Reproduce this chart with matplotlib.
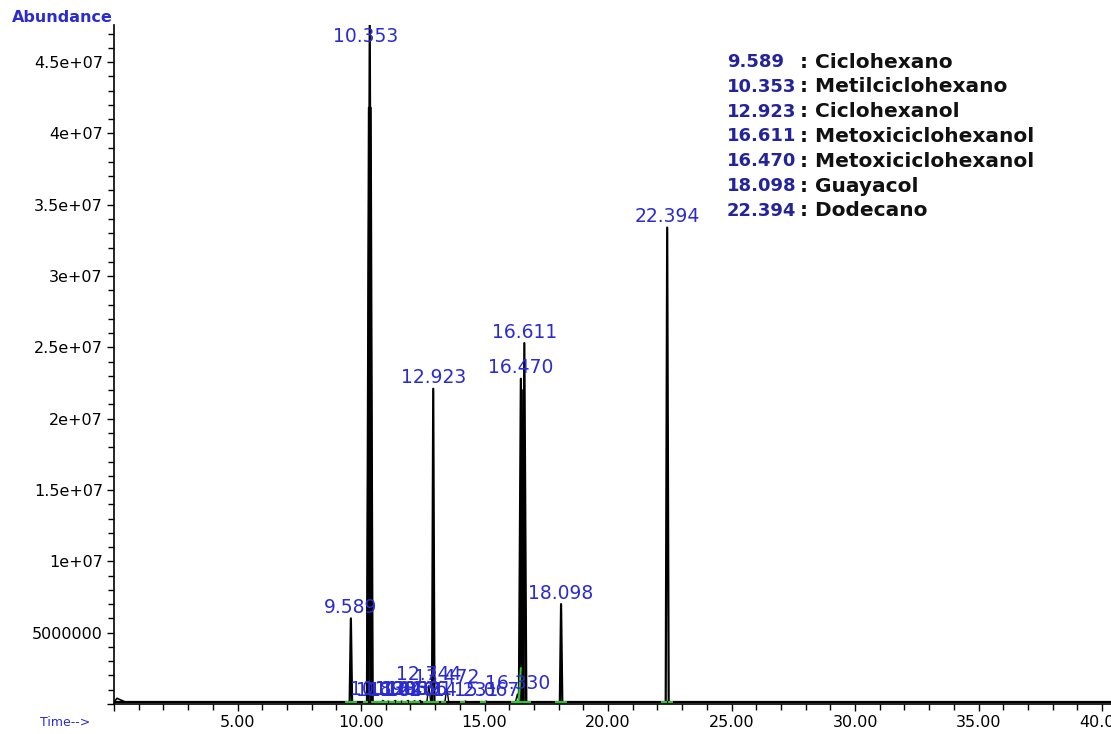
"""GC-MS total ion chromatogram with labelled peaks."""

import matplotlib
matplotlib.use("Agg")
import matplotlib.pyplot as plt
from matplotlib.ticker import MultipleLocator, FuncFormatter

# main peaks: retention time (min), abundance, half-width (min)
PEAK_TIMES = [9.589, 10.353, 12.923, 16.470, 16.611, 18.098, 22.394]
PEAK_HEIGHTS = [6.0e6, 4.76e7, 2.21e7, 2.28e7, 2.53e7, 7.0e6, 3.34e7]
PEAK_WIDTHS = [0.05, 0.10, 0.05, 0.08, 0.08, 0.05, 0.06]

# unlabelled co-eluting shoulders that thicken the big peaks
SHOULDER_TIMES = [10.32, 10.39, 16.50, 16.58]
SHOULDER_HEIGHTS = [4.18e7, 4.18e7, 2.2e7, 2.2e7]
SHOULDER_WIDTHS = [0.08, 0.08, 0.08, 0.08]

# minor peaks crowded along the baseline
MINOR_TIMES = [10.890, 11.102, 11.385, 11.640, 11.902, 12.166, 12.391,
               12.744, 13.472, 14.231, 15.067, 16.330]
MINOR_HEIGHTS = [2.5e5, 2.0e5, 2.5e5, 2.0e5, 2.5e5, 2.2e5, 2.5e5,
                 1.3e6, 1.1e6, 2.0e5, 2.0e5, 7.0e5]
MINOR_WIDTHS = [0.08] * 12

BASELINE = 1.3e5
START_BUMP = (0.12, 4.0e5, 0.35)   # time, height, half-width

COMPOUNDS = [
    ("9.589", "Ciclohexano"),
    ("10.353", "Metilciclohexano"),
    ("12.923", "Ciclohexanol"),
    ("16.611", "Metoxiciclohexanol"),
    ("16.470", "Metoxiciclohexanol"),
    ("18.098", "Guayacol"),
    ("22.394", "Dodecano"),
]

X_MAX = 40.36
Y_MAX = 4.76e7
LABEL_BLUE = "#2b2bd2"
LEGEND_BLUE = "#23239a"
GREEN = "#2ecc2e"


def peak_outline(t, h, w):
    return [t - w, t, t + w], [BASELINE, h, BASELINE]


fig = plt.figure(figsize=(11.11, 7.34), dpi=100)
ax = fig.add_axes([114 / 1111, 30 / 734, (1111 - 114) / 1111, 679 / 734])

# baseline trace
ax.plot([0, X_MAX], [BASELINE, BASELINE], color="black", lw=1.6, zorder=2)
bt, bh, bw = START_BUMP
ax.plot([0, bt, bt + bw], [BASELINE, bh, BASELINE], color="black", lw=1.2)

for t, h, w in zip(MINOR_TIMES, MINOR_HEIGHTS, MINOR_WIDTHS):
    xs, ys = peak_outline(t, h, w)
    ax.plot(xs, ys, color="black", lw=1.0, zorder=3)
    ax.plot([t - w - 0.12, t - w + 0.02], [BASELINE, BASELINE], color=GREEN, lw=1.4, zorder=4)
    ax.annotate(f"{t:.3f}", (t, h), xytext=(0, 11), textcoords="offset pixels",
                ha="center", va="center", color=LABEL_BLUE, fontsize=13.5, zorder=5)

for t, h, w in zip(SHOULDER_TIMES, SHOULDER_HEIGHTS, SHOULDER_WIDTHS):
    xs, ys = peak_outline(t, h, w)
    ax.plot(xs, ys, color="black", lw=1.6, zorder=3)

for t, h, w in zip(PEAK_TIMES, PEAK_HEIGHTS, PEAK_WIDTHS):
    xs, ys = peak_outline(t, h, w)
    ax.plot(xs, ys, color="black", lw=1.6, zorder=3)
    ax.plot([t - w - 0.15, t - w], [BASELINE, BASELINE], color=GREEN, lw=1.4, zorder=4)
    ax.plot([t + w, t + w + 0.15], [BASELINE, BASELINE], color=GREEN, lw=1.4, zorder=4)
    dy = -11 if h >= Y_MAX else 11
    ax.annotate(f"{t:.3f}", (t, min(h, Y_MAX)), xytext=(-4 if h >= Y_MAX else 0, dy),
                textcoords="offset pixels", ha="center", va="center",
                color=LABEL_BLUE, fontsize=13.5, zorder=5)

# green integration rise on the 16.4 min shoulder
ax.plot([16.38, 16.47], [BASELINE, 2.5e6], color=GREEN, lw=1.4, zorder=4)

ax.set_xlim(0, X_MAX)
ax.set_ylim(0, Y_MAX)
ax.spines["top"].set_visible(False)
ax.spines["right"].set_visible(False)
for s in ("left", "bottom"):
    ax.spines[s].set_linewidth(1.2)

ax.xaxis.set_major_locator(MultipleLocator(5))
ax.xaxis.set_minor_locator(MultipleLocator(1))
ax.yaxis.set_major_locator(MultipleLocator(5e6))
ax.yaxis.set_minor_locator(MultipleLocator(1e6))
ax.xaxis.set_major_formatter(FuncFormatter(lambda v, _: "" if v <= 0 else f"{v:.2f}"))
ax.yaxis.set_major_formatter(FuncFormatter(
    lambda v, _: "" if v <= 0 else (f"{int(v)}" if v < 1e7 else f"{v:g}")))
ax.tick_params(which="both", direction="out", labelsize=11.5, width=1)
ax.tick_params(which="major", length=5, pad=3)
ax.tick_params(which="minor", length=4)

fig.text(12 / 1111, 1 - 17 / 734, "Abundance", color=LABEL_BLUE, fontsize=11.5,
         fontweight="bold", ha="left", va="center")
fig.text(40 / 1111, 1 - 722 / 734, "Time-->", color=LABEL_BLUE, fontsize=9,
         ha="left", va="center")

row_y = 62
for num, name in COMPOUNDS:
    fig.text(727 / 1111, 1 - row_y / 734, num, color=LEGEND_BLUE, fontsize=13,
             fontweight="bold", ha="left", va="center")
    fig.text(800 / 1111, 1 - row_y / 734, ": " + name, color="#111111", fontsize=14.5,
             fontweight="bold", ha="left", va="center")
    row_y += 24.8

fig.savefig("out.png", dpi=100)
